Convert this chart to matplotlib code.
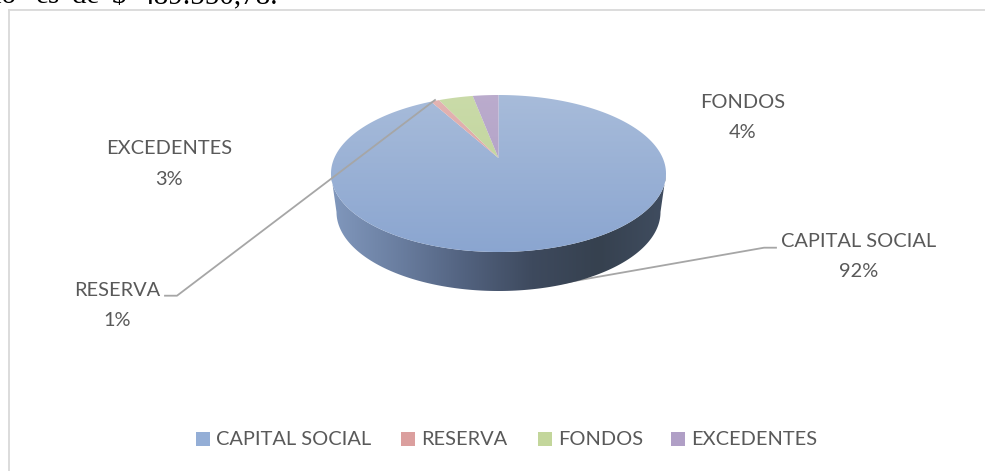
import numpy as np
import matplotlib
matplotlib.use('Agg')
import matplotlib.pyplot as plt
from matplotlib.colors import LinearSegmentedColormap
from matplotlib.patches import Polygon, Rectangle

categories = ["CAPITAL SOCIAL", "RESERVA", "FONDOS", "EXCEDENTES"]
values = [92, 1, 4, 3]
body_words = ["do", "es", "de", "$", "489.550,78."]

top_colors = [("#A8BCDA", "#8AA5D0"), ("#E3B4B3", "#D89A98"), ("#CADBA9", "#BCD194"), ("#BBACCD", "#AC9AC2")]
legend_colors = ["#94AED6", "#DB9F9E", "#C3D69B", "#B09FC6"]

plt.rcParams['font.family'] = ['Lato', 'DejaVu Sans']

# pie geometry in pixels
cx, cy, a, b = 498.5, 173.5, 167.5, 78.5
tilt = 0.197
bx, by, ba, bb = 498.5, 212, 162, 79

fig = plt.figure(figsize=(9.85, 4.71), dpi=100)
ax = fig.add_axes([0, 0, 1, 1])
ax.set_xlim(0, 985)
ax.set_ylim(471, 0)
ax.axis('off')


def project(ang):
    # perspective: circle stays an ellipse, the centre moves up
    u = np.sin(ang)
    v = np.cos(ang)
    d = 1 + tilt * v
    return cx + a * u * np.sqrt(1 - tilt ** 2) / d, cy - b * (v + tilt) / d


def gradient_fill(pts, colors, extent, horizontal=False, zorder=2):
    cmap = LinearSegmentedColormap.from_list("g", colors)
    grad = np.linspace(0, 1, 256)
    grad = grad.reshape(1, -1) if horizontal else grad.reshape(-1, 1)
    im = ax.imshow(grad, cmap=cmap, extent=extent, aspect='auto', zorder=zorder, origin='upper')
    im.set_clip_path(Polygon(pts, closed=True, transform=ax.transData))


# side wall
t = np.linspace(-np.pi / 2, np.pi / 2, 200)
upper_x = cx + a * np.sin(t)
upper_y = cy + b * np.cos(t)
lower_x = bx + ba * np.sin(t)
lower_y = by + bb * np.cos(t)
wall = np.column_stack([np.r_[upper_x, lower_x[::-1]], np.r_[upper_y, lower_y[::-1]]])
gradient_fill(wall, ["#8198BD", "#6A7EA0", "#52627F", "#3E4A5E", "#36414F", "#404D60"],
              (331, 666, 295, 170), horizontal=True, zorder=2)

# slices, clockwise from the top
fracs = np.cumsum([0] + values) / sum(values)
apex = (cx, cy - b * tilt)
for i in range(len(values)):
    ang = 2 * np.pi * np.linspace(fracs[i], fracs[i + 1], 200)
    x, y = project(ang)
    pts = np.column_stack([np.r_[apex[0], x], np.r_[apex[1], y]])
    gradient_fill(pts, top_colors[i], (325, 672, 255, 92), zorder=3)

ax.set_xlim(0, 985)
ax.set_ylim(471, 0)

# chart frame
ax.plot([9, 9], [471, 9.5], color="#D9D9D9", lw=1.3, zorder=1)
ax.plot([9, 985], [9.5, 9.5], color="#D9D9D9", lw=1.3, zorder=1)

# leader lines, the capital one runs out from under the wall
ax.plot([560, 764, 776], [283.5, 247.7, 247.7], color="#A6A6A6", lw=1.3, zorder=1)
ax.plot([165, 177, 435], [295.7, 295.7, 100], color="#A6A6A6", lw=1.3, zorder=4)

# data labels
label_pos = [(858.5, 241.5, 271.5), (117, 290.5, 320.5), (743, 102.5, 132.5), (168.7, 148.5, 179.5)]
for name, val, (lx, ly1, ly2) in zip(categories, values, label_pos):
    ax.text(lx, ly1, name, ha='center', va='center', fontsize=14.4, color="#595959", zorder=5)
    ax.text(lx, ly2, "%d%%" % val, ha='center', va='center', fontsize=14.4, color="#595959", zorder=5)

# legend
legend_x = [196, 401, 538, 671]
text_x = [215.7, 421, 558, 691.5]
for name, col, px, tx in zip(categories, legend_colors, legend_x, text_x):
    ax.add_patch(Rectangle((px, 432), 14, 14, color=col, lw=0, zorder=5))
    ax.text(tx, 439.7, name, ha='left', va='center', fontsize=14.4, color="#595959", zorder=5)

# clipped line of body text above the chart, justified so the gaps are wide
word_x = [-13, 36, 72, 112, 139]
for word, wx in zip(body_words, word_x):
    ax.text(wx, 3, word, ha='left', va='baseline', fontsize=21, color="black",
            family=['Liberation Serif', 'DejaVu Serif'], zorder=5)

fig.savefig("out.png", dpi=100)
